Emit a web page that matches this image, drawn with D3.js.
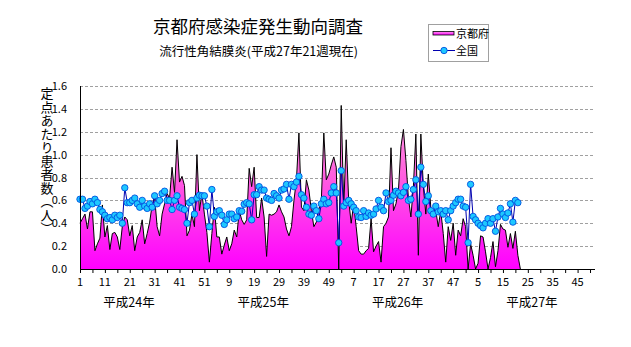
<!DOCTYPE html>
<html><head><meta charset="utf-8">
<script src="https://cdn.jsdelivr.net/npm/d3@7"></script>
<style>body{margin:0;background:#fff}text{font-family:"Noto Sans CJK JP","Noto Sans",sans-serif}</style>
</head><body>
<svg id="c" width="631" height="347"></svg>
<script>
const weekLabels = ["1","11","21","31","41","51","9","19","29","39","49","7","17","27","37","47","5","15","25","35","45"];
const yearLabels = ["平成24年","平成25年","平成26年","平成27年"];
const yTicks = [0,0.2,0.4,0.6,0.8,1.0,1.2,1.4,1.6];
const nWeeks = 208;
const seriesNames = ["京都府","全国"];

const kyoto = [
 0.40,0.44,0.48,0.35,0.50,0.50,0.16,0.22,0.27,0.56,0.28,0.38,0.17,0.31,0.32,0.28,0.17,0.37,0.455,0.43,
 0.29,0.38,0.16,0.28,0.32,0.43,0.22,0.31,0.41,0.56,0.63,0.37,0.29,0.48,0.57,0.66,0.62,0.89,0.67,1.13,
 0.76,0.81,0.73,0.29,
 0.34,0.48,0.37,1.0,0.51,0.66,0.48,0.32,0.06,0.31,0.54,0.28,0.28,0.13,0.21,0.28,0.16,0.22,0.34,0.28,
 0.51,0.43,0.39,0.43,
 0.88,0.72,0.89,0.45,0.45,0.62,0.455,0.11,
 0.48,0.47,0.48,0.50,0.56,0.50,0.455,0.35,0.29,0.37,0.60,0.78,1.19,0.54,0.51,0.78,0.69,0.51,0.37,0.41,
 0.52,0.60,1.19,0.78,0.83,0.91,0.98,0.89,0.0,
 1.43,0.54,1.13,0.60,0.40,0.57,0.37,0.16,0.13,0.13,0.16,0.18,0.44,0.15,0.20,0.24,0.06,0.37,0.40,0.455,
 1.06,0.51,0.57,0.69,1.07,1.22,0.95,0.62,0.455,0.72,1.18,0.12,1.18,0.72,0.48,0.83,0.54,0.455,0.51,0.37,
 0.51,0.31,0.06,0.37,0.25,0.40,0.12,0.34,0.29,0.44,0.37,0.0,
 0.22,0.12,0.0,0.05,0.29,0.28,0.15,0.0,0.10,0.24,0.02,0.16,0.39,0.35,0.34,0.19,0.31,0.18,0.33,0.12
];
const national = [
 0.61,0.61,0.53,0.55,0.59,0.57,0.61,0.58,0.52,0.50,0.47,0.44,0.45,0.43,0.47,0.45,0.47,0.40,0.71,0.58,
 0.58,0.60,0.62,0.57,0.54,0.60,0.55,0.53,0.57,0.54,0.64,0.57,0.60,0.66,0.68,0.60,0.60,0.52,0.60,0.64,
 0.54,0.53,0.52,0.40,0.58,
 0.60,0.48,0.62,0.645,0.64,0.64,0.55,0.37,
 0.695,0.46,0.50,0.51,0.47,0.39,0.43,0.48,0.48,0.44,0.455,0.51,0.505,0.566,0.58,0.57,0.43,0.65,0.65,0.72,
 0.69,0.69,0.62,0.61,0.60,0.66,0.64,0.62,0.69,0.70,0.74,0.61,0.74,0.72,0.76,0.81,0.65,0.62,0.54,0.48,
 0.47,0.55,0.51,0.44,0.57,0.61,0.57,0.58,0.665,0.72,0.665,
 0.23,0.86,
 0.55,0.58,0.60,0.57,0.54,0.51,0.455,0.45,0.51,0.46,0.49,0.47,0.48,0.525,0.60,0.54,0.51,0.665,0.59,0.60,
 0.645,0.68,0.665,0.64,0.67,0.72,0.60,0.61,0.695,0.78,0.48,0.89,0.74,0.59,0.64,0.51,0.48,0.55,0.50,0.51,
 0.48,0.51,0.43,0.51,0.55,0.58,0.61,0.61,0.55,0.54,
 0.23,0.74,
 0.46,0.43,0.40,0.38,0.36,0.40,0.44,0.40,0.44,0.33,0.455,0.53,0.48,0.45,0.49,0.57,0.41,0.60,0.58
];

const svg = d3.select("#c");
const L = 80, R = 595, T = 86, B = 269;
const x = d3.scalePoint().domain(d3.range(nWeeks)).range([L, R]);
const y = d3.scaleLinear().domain([0, 1.6]).range([B, T]);

const defs = svg.append("defs");
const g = defs.append("linearGradient").attr("id","pink").attr("x1",0).attr("y1",0).attr("x2",0).attr("y2",1)
  .attr("gradientUnits","userSpaceOnUse").attr("x1",0).attr("y1",T).attr("x2",0).attr("y2",B);
g.append("stop").attr("offset","0%").attr("stop-color","#ffb8e8");
g.append("stop").attr("offset","45%").attr("stop-color","#ff66dd");
g.append("stop").attr("offset","100%").attr("stop-color","#ff00ff");
const g2 = defs.append("linearGradient").attr("id","pinkLeg").attr("x1",0).attr("y1",0).attr("x2",0).attr("y2",1);
g2.append("stop").attr("offset","0%").attr("stop-color","#ff99ee");
g2.append("stop").attr("offset","100%").attr("stop-color","#ff00ff");

// gridlines
svg.append("g").selectAll("line").data(yTicks.filter(d => d > 0)).join("line")
  .attr("x1", L).attr("x2", R).attr("y1", d => Math.round(y(d)) + 0.5).attr("y2", d => Math.round(y(d)) + 0.5)
  .attr("stroke", "#a0a0a0").attr("stroke-dasharray", "3,2").attr("stroke-width", 1);

// Kyoto area
const areaData = kyoto.map((v, i) => [i, v]).concat([[kyoto.length, 0]]);
svg.append("path").datum(areaData)
  .attr("d", d3.area().x(d => x(d[0])).y0(y(0)).y1(d => y(d[1])))
  .attr("fill", "url(#pink)");
svg.append("path").datum(areaData)
  .attr("d", d3.line().x(d => x(d[0])).y(d => y(d[1])))
  .attr("fill", "none").attr("stroke", "#000").attr("stroke-width", 1);

// national line
svg.append("path").datum(national)
  .attr("d", d3.line().x((d, i) => x(i)).y(d => y(d)))
  .attr("fill", "none").attr("stroke", "#0000b0").attr("stroke-width", 1);
svg.append("g").selectAll("circle").data(national).join("circle")
  .attr("cx", (d, i) => x(i)).attr("cy", d => y(d)).attr("r", 3.2)
  .attr("fill", "#1ec8ff").attr("stroke", "#0050e0").attr("stroke-width", 0.9);

// axes
const xAxis = d3.axisBottom(x).tickValues(d3.range(0, nWeeks, 5)).tickFormat("").tickSize(4).tickSizeOuter(0);
const xa = svg.append("g").attr("transform", `translate(0,${B})`).call(xAxis);
xa.select(".domain").attr("d", `M${L},0.5H${R}`).attr("stroke", "#000");
xa.selectAll(".tick line").attr("stroke", "#000");

svg.append("line").attr("x1", L + 0.5).attr("x2", L + 0.5).attr("y1", T).attr("y2", B + 1).attr("stroke", "#000");

svg.append("g").selectAll("text").data(weekLabels).join("text")
  .attr("x", (d, i) => x(i * 10)).attr("y", 286).attr("text-anchor", "middle")
  .attr("font-size", 11).text(d => d);

svg.append("g").selectAll("text").data(yTicks).join("text")
  .attr("x", 67).attr("y", d => y(d) + 4).attr("text-anchor", "end")
  .attr("font-size", 11).text(d => d.toFixed(1));

// year labels
svg.append("g").selectAll("text").data(yearLabels).join("text")
  .attr("x", (d, i) => 129 + i * 134.3).attr("y", 307).attr("text-anchor", "middle")
  .attr("font-size", 12.5).text(d => d);

// y title (vertical)
svg.append("text").attr("x", 47).attr("y", 87)
  .style("writing-mode", "vertical-rl").attr("font-size", 13).attr("letter-spacing", 0.5)
  .text("定点あたり患者数（人）");

// titles
svg.append("text").attr("x", 258).attr("y", 33).attr("text-anchor", "middle")
  .attr("font-size", 17.5).text("京都府感染症発生動向調査");
svg.append("text").attr("x", 358).attr("y", 56).attr("text-anchor", "end")
  .attr("font-size", 12.5).text("流行性角結膜炎(平成27年21週現在)");

// legend
const lg = svg.append("g");
lg.append("rect").attr("x", 428.5).attr("y", 24.5).attr("width", 60).attr("height", 37)
  .attr("fill", "#fff").attr("stroke", "#a0a0a0");
lg.append("rect").attr("x", 433).attr("y", 31.5).attr("width", 21).attr("height", 3.5)
  .attr("fill", "url(#pinkLeg)").attr("stroke", "#000").attr("stroke-width", 0.8);
lg.append("text").attr("x", 456).attr("y", 38).attr("font-size", 11).text(seriesNames[0]);
lg.append("line").attr("x1", 433).attr("x2", 455).attr("y1", 50.5).attr("y2", 50.5).attr("stroke", "#0000b0");
lg.append("circle").attr("cx", 444).attr("cy", 50.5).attr("r", 3.2)
  .attr("fill", "#1ec8ff").attr("stroke", "#0050e0").attr("stroke-width", 0.9);
lg.append("text").attr("x", 456).attr("y", 55).attr("font-size", 11).text(seriesNames[1]);
</script>
</body></html>
